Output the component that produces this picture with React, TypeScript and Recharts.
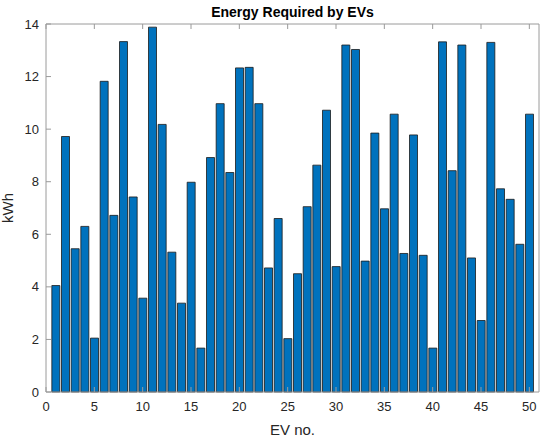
import React from 'react';
import { BarChart, Bar, XAxis, YAxis } from 'recharts';

// Energy per EV
const evNumbers = Array.from({ length: 50 }, (_, i) => i + 1);
const energyKWh = [
  4.05, 9.72, 5.45, 6.3, 2.05, 11.82, 6.72, 13.33, 7.42, 3.57,
  13.88, 10.18, 5.32, 3.38, 7.98, 1.67, 8.92, 10.97, 8.35, 12.33,
  12.35, 10.97, 4.72, 6.6, 2.03, 4.5, 7.05, 8.63, 10.72, 4.77,
  13.2, 13.03, 4.98, 9.85, 6.97, 10.57, 5.27, 9.78, 5.2, 1.67,
  13.32, 8.42, 13.2, 5.1, 2.72, 13.3, 7.73, 7.33, 5.62, 10.57,
];
const xTicks = [0, 5, 10, 15, 20, 25, 30, 35, 40, 45, 50];
const yTicks = [0, 2, 4, 6, 8, 10, 12, 14];

const data = evNumbers.map((ev, i) => ({ ev, energy: energyKWh[i] }));

const FONT = '"Liberation Sans", Arial, Helvetica, sans-serif';
const AXIS = '#9a9a9a';
const TEXT = '#262626';
const TICK_LEN = 5;

// MATLAB style: ticks point into the plot box
const BottomTick = (props: any) => {
  const { x, y, payload } = props;
  const axisY = y - 10;
  return (
    <g>
      <line x1={x} x2={x} y1={axisY} y2={axisY - TICK_LEN} stroke={AXIS} />
      <text x={x} y={y} dy="0.71em" textAnchor="middle" fill={TEXT} fontSize={13} fontFamily={FONT}>
        {payload.value}
      </text>
    </g>
  );
};

const LeftTick = (props: any) => {
  const { x, y, payload } = props;
  const axisX = x + 7;
  return (
    <g>
      <line x1={axisX} x2={axisX + TICK_LEN} y1={y} y2={y} stroke={AXIS} />
      <text x={x} y={y} dy="0.35em" textAnchor="end" fill={TEXT} fontSize={13} fontFamily={FONT}>
        {payload.value}
      </text>
    </g>
  );
};

const TopTick = (props: any) => {
  const { x, y } = props;
  return <line x1={x} x2={x} y1={y} y2={y + TICK_LEN} stroke={AXIS} />;
};

const RightTick = (props: any) => {
  const { x, y } = props;
  return <line x1={x} x2={x - TICK_LEN} y1={y} y2={y} stroke={AXIS} />;
};

export default function App() {
  return (
    <div style={{ position: 'absolute', left: 0, top: 0, width: 550, height: 437, background: '#fff', fontFamily: FONT }}>
      <div
        style={{
          position: 'absolute', left: 46, width: 493, top: 3, textAlign: 'center',
          fontWeight: 'bold', fontSize: 14, color: '#000', lineHeight: '18px',
        }}
      >
        Energy Required by EVs
      </div>
      <BarChart width={550} height={437} data={data} margin={{ top: 23, right: 10, bottom: 0, left: 0 }}>
        <XAxis
          xAxisId="bottom"
          dataKey="ev"
          type="number"
          domain={[0, 51]}
          ticks={xTicks}
          interval={0}
          height={45}
          tickSize={0}
          tickMargin={10}
          tick={<BottomTick />}
          axisLine={{ stroke: AXIS }}
          label={{ value: 'EV no.', position: 'insideBottom', offset: 2, fill: TEXT, fontSize: 15, fontFamily: FONT }}
        />
        <XAxis
          xAxisId="top"
          dataKey="ev"
          type="number"
          orientation="top"
          domain={[0, 51]}
          ticks={xTicks}
          interval={0}
          height={1}
          tickSize={0}
          tickMargin={0}
          tick={<TopTick />}
          axisLine={{ stroke: AXIS }}
        />
        <YAxis
          yAxisId="left"
          domain={[0, 14]}
          ticks={yTicks}
          interval={0}
          width={46}
          tickSize={0}
          tickMargin={7}
          tick={<LeftTick />}
          axisLine={{ stroke: AXIS }}
          label={{ value: 'kWh', angle: -90, position: 'insideLeft', offset: 8, fill: TEXT, fontSize: 15, fontFamily: FONT, style: { textAnchor: 'middle' } }}
        />
        <YAxis
          yAxisId="right"
          orientation="right"
          domain={[0, 14]}
          ticks={yTicks}
          interval={0}
          width={1}
          tickSize={0}
          tickMargin={0}
          tick={<RightTick />}
          axisLine={{ stroke: AXIS }}
        />
        <Bar
          xAxisId="bottom"
          yAxisId="left"
          dataKey="energy"
          fill="#0072BD"
          stroke="#1a1a1a"
          strokeWidth={0.8}
          barSize={8}
          isAnimationActive={false}
        />
      </BarChart>
    </div>
  );
}
